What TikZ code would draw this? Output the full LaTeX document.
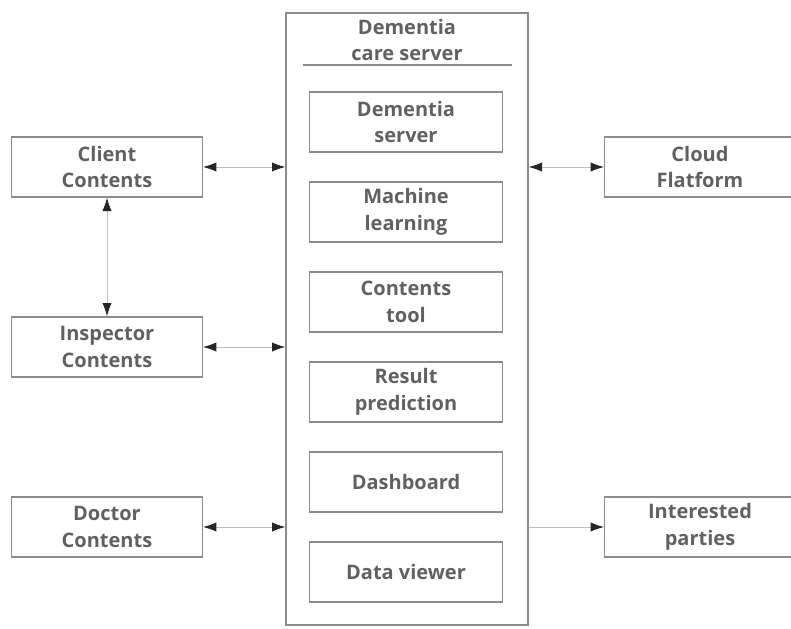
\documentclass[tikz,border=0pt]{standalone}
\usepackage{fontspec}
\setmainfont{Open Sans}
\usetikzlibrary{arrows.meta}

\begin{document}
\begin{tikzpicture}[x=0.75pt, y=-0.75pt,
  box/.style={draw=gray!90, line width=1pt, fill=white, minimum width=143pt, minimum height=45pt,
    inner sep=0pt, align=center, text=black!62, font=\fontsize{15}{20}\selectfont\bfseries},
  inbox/.style={box, minimum width=145pt},
  link/.style={draw=black!25, line width=0.7pt, >={Latex[length=10pt,width=7pt,black!85]}}]
\useasboundingbox (0,0) rectangle (791,628);

\draw (407,319) node[draw=gray!90, line width=1pt, minimum width=181.5pt, minimum height=459pt, inner sep=0pt] (main) {} ;
\draw (407,40) node[align=center, text=black!62, font=\fontsize{15}{20}\selectfont\bfseries] (title) {Dementia\\care server} ;
\draw[gray!90, line width=1pt] (303,65) coordinate (hl) -- (512,65) coordinate (hr) ;

\draw (406,122) node[inbox] (ds) {Dementia\\server} ;
\draw (406,212) node[inbox] (ml) {Machine\\learning} ;
\draw (406,302) node[inbox] (ct) {Contents\\tool} ;
\draw (406,392) node[inbox] (rp) {Result\\prediction} ;
\draw (406,482) node[inbox] (db) {Dashboard} ;
\draw (406,572) node[inbox] (dv) {Data viewer} ;

\draw (107,167) node[box] (client) {Client\\Contents} ;
\draw (107,347) node[box] (insp) {Inspector\\Contents} ;
\draw (107,527) node[box] (doctor) {Doctor\\Contents} ;
\draw (700,167) node[box] (cloud) {Cloud\\Flatform} ;
\draw (700,527) node[box] (party) {Interested\\parties} ;

\draw[link, <->] (client) to (client -| main.west) ;
\draw[link, <->] (insp) to (insp -| main.west) ;
\draw[link, <->] (doctor) to (doctor -| main.west) ;
\draw[link, <->] (client) to (insp) ;
\draw[link, <->] (cloud -| main.east) to (cloud) ;
\draw[link, ->] (party -| main.east) to (party) ;

\end{tikzpicture}
\end{document}
